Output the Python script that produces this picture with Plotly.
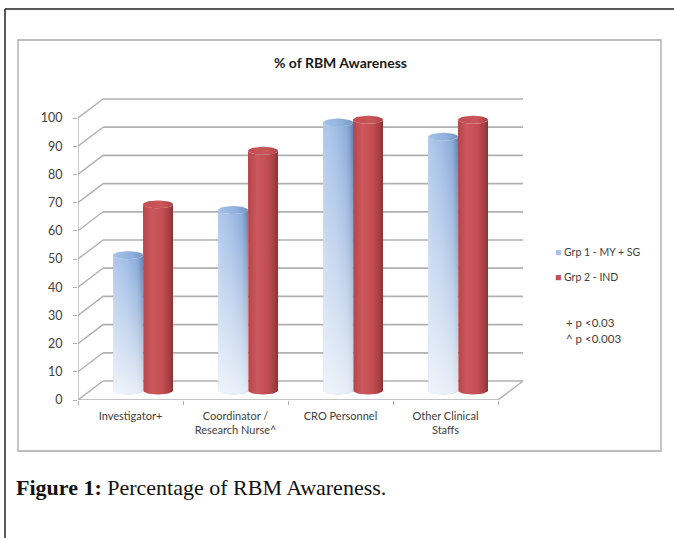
import numpy as np
import plotly.graph_objects as go

# ---- data -------------------------------------------------------------
categories = ["Investigator+", "Coordinator /<br>Research Nurse^",
              "CRO Personnel", "Other Clinical<br>Staffs"]
series_names = ["Grp 1 - MY + SG", "Grp 2 - IND"]
grp1_values = [48, 64, 95, 90]
grp2_values = [66, 85, 96, 96]
y_ticks = list(range(0, 101, 10))
notes = ["+ p <0.03", "^ p <0.003"]
title_text = "% of RBM Awareness"
caption_bold = "Figure 1:"
caption_text = "Percentage of RBM Awareness."

# ---- geometry of the page --------------------------------------------
W, H = 674, 538
PL, PR, PT, PB = 78, 530, 90, 400          # plot area edges (px)
PX_PER_CAT = 105.0
PX_PER_VAL = 2.82
x_range = [-0.5, -0.5 + (PR - PL) / PX_PER_CAT]
y_range = [0, (PB - PT) / PX_PER_VAL]

# pseudo-3D depth of the chart box
DX = 25 / PX_PER_CAT
DY = 19 / PX_PER_VAL
MID_DX, MID_DY = DX / 2, DY / 2
BAR_W = 30 / PX_PER_CAT
CAP_RY = 4 / PX_PER_VAL

FONT = "Lato, 'Open Sans', sans-serif"
TXT = "#404040"
GRID = "#b0b0b0"


def xp(px):
    return (px - PL) / (PR - PL)


def yp(py):
    return (PB - py) / (PB - PT)


def cylinder_body(xc, w, base, top, ry, n=28):
    t = np.linspace(np.pi, 2 * np.pi, n)
    bx = xc + w / 2 * np.cos(t)
    by = base + ry * np.sin(t)
    tx = bx[::-1]
    ty = top + ry * np.sin(t)[::-1]
    xs = np.concatenate([[xc - w / 2], bx, [xc + w / 2], tx])
    ys = np.concatenate([[top], by, [top], ty])
    return xs, ys


def cylinder_cap(xc, w, top, ry, n=48):
    t = np.linspace(0, 2 * np.pi, n)
    return xc + w / 2 * np.cos(t), top + ry * np.sin(t)


styles = [
    dict(body=[[0, "#b0c9eb"], [0.45, "#a0bce5"], [0.8, "#8aaad9"], [0.93, "#7292c3"], [1, "#5f80b1"]],
         cap=[[0, "#a7c1e7"], [0.6, "#90b0dd"], [1, "#7595c6"]],
         wash=0.8, key="#a9c3e8"),
    dict(body=[[0, "#b4454a"], [0.3, "#cc575c"], [0.65, "#c24e52"], [0.88, "#a63e42"], [1, "#8a3134"]],
         cap=[[0, "#c04d52"], [0.6, "#ca565a"], [1, "#ad4348"]],
         wash=0.0, key="#c0504d"),
]

fig = go.Figure()

series = [grp1_values, grp2_values]
for ci in range(len(categories)):
    for si, vals in enumerate(series):
        st = styles[si]
        xc = ci + MID_DX + (si - 0.5) * BAR_W
        base = MID_DY
        top = vals[ci] + MID_DY
        bx, by = cylinder_body(xc, BAR_W, base, top, CAP_RY)
        fig.add_trace(go.Scatter(
            x=bx, y=by, mode="lines", fill="toself", line=dict(width=0),
            fillgradient=dict(type="horizontal", colorscale=st["body"],
                              start=xc - BAR_W / 2, stop=xc + BAR_W / 2),
            hoverinfo="skip", showlegend=False))
        if st["wash"] > 0:
            fig.add_trace(go.Scatter(
                x=bx, y=by, mode="lines", fill="toself", line=dict(width=0),
                fillgradient=dict(type="vertical",
                                  colorscale=[[0, f"rgba(255,255,255,{st['wash']})"],
                                              [1, "rgba(255,255,255,0)"]],
                                  start=base - CAP_RY, stop=top),
                hoverinfo="skip", showlegend=False))
        cx, cy = cylinder_cap(xc, BAR_W, top, CAP_RY)
        fig.add_trace(go.Scatter(
            x=cx, y=cy, mode="lines", fill="toself", line=dict(width=0),
            fillgradient=dict(type="horizontal", colorscale=st["cap"],
                              start=xc - BAR_W / 2, stop=xc + BAR_W / 2),
            hoverinfo="skip", showlegend=False))

shapes = []
x0, x1 = -0.5, len(categories) - 0.5
for v in y_ticks:
    shapes.append(dict(type="line", xref="x", yref="y", layer="below",
                       x0=x0 + DX, x1=x1 + DX, y0=v + DY, y1=v + DY,
                       line=dict(color=GRID, width=1.7)))
    shapes.append(dict(type="line", xref="x", yref="y", layer="below",
                       x0=x0, x1=x0 + DX, y0=v, y1=v + DY,
                       line=dict(color=GRID, width=1.4)))
shapes += [
    dict(type="line", xref="x", yref="y", layer="below", x0=x0, x1=x0,
         y0=0, y1=y_ticks[-1], line=dict(color=GRID, width=1.4)),
    dict(type="line", xref="x", yref="y", layer="below", x0=x0, x1=x1,
         y0=0, y1=0, line=dict(color=GRID, width=1.4)),
    dict(type="line", xref="x", yref="y", layer="below", x0=x1, x1=x1 + DX,
         y0=0, y1=DY, line=dict(color=GRID, width=1.4)),
    # chart box
    dict(type="rect", xref="paper", yref="paper", layer="below",
         x0=xp(18), x1=xp(661), y0=yp(451), y1=yp(40),
         line=dict(color="#a8a8a8", width=1.3)),
    # page frame
    dict(type="line", xref="paper", yref="paper", x0=xp(5), x1=xp(674),
         y0=yp(9), y1=yp(9), line=dict(color="#222222", width=1.5)),
    dict(type="line", xref="paper", yref="paper", x0=xp(5), x1=xp(5),
         y0=yp(9), y1=yp(538), line=dict(color="#222222", width=1.5)),
]

annotations = [
    dict(text=f"<b>{title_text}</b>", xref="paper", yref="paper",
         x=xp(340), y=yp(63), xanchor="center", yanchor="middle",
         showarrow=False, font=dict(family=FONT, size=14, color="#1a1a1a")),
    dict(text=f"<b>{caption_bold}</b> {caption_text}", xref="paper", yref="paper",
         x=xp(14), y=yp(487), xanchor="left", yanchor="middle", showarrow=False,
         font=dict(family="'Liberation Serif', 'DejaVu Serif', serif", size=22,
                   color="#111111")),
]
for si, name in enumerate(series_names):
    annotations.append(dict(
        text=f"<span style='color:{styles[si]['key']}'>■</span> {name}",
        xref="paper", yref="paper", x=xp(553), y=yp(252 + 25 * si),
        xanchor="left", yanchor="middle", showarrow=False,
        font=dict(family=FONT, size=10.5, color=TXT)))
for ni, note in enumerate(notes):
    annotations.append(dict(
        text=note, xref="paper", yref="paper", x=xp(564), y=yp(322 + 16 * ni),
        xanchor="left", yanchor="middle", showarrow=False,
        font=dict(family=FONT, size=11.5, color=TXT)))

fig.update_layout(
    width=W, height=H,
    margin=dict(l=PL, r=W - PR, t=PT, b=H - PB, pad=0, autoexpand=False),
    paper_bgcolor="white", plot_bgcolor="rgba(0,0,0,0)",
    showlegend=False,
    shapes=shapes, annotations=annotations,
    xaxis=dict(range=x_range, tickvals=list(range(len(categories))),
               ticktext=categories, ticks="", showgrid=False, zeroline=False,
               showline=False, ticklabelstandoff=8,
               tickfont=dict(family=FONT, size=11, color=TXT),
               minor=dict(tickvals=[i - 0.5 for i in range(len(categories) + 1)],
                          ticks="outside", ticklen=4, tickcolor=GRID, showgrid=False),
               fixedrange=True),
    yaxis=dict(range=y_range, tickvals=y_ticks, ticks="outside", ticklen=4,
               tickcolor=GRID, showgrid=False, zeroline=False, showline=False,
               ticklabelstandoff=8,
               tickfont=dict(family=FONT, size=12.5, color=TXT), fixedrange=True),
)

fig.write_html("out.html")
